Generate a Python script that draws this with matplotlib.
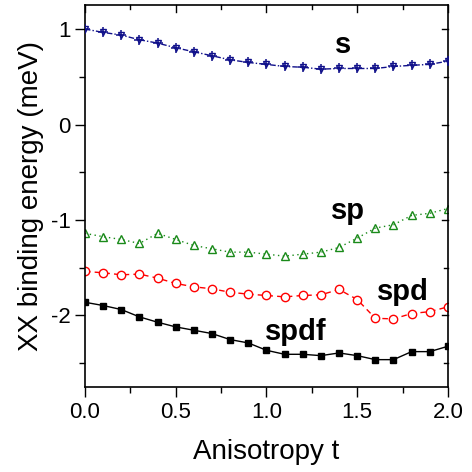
import matplotlib
matplotlib.use("Agg")
import matplotlib.pyplot as plt
import numpy as np
from matplotlib.ticker import MultipleLocator

plt.rcParams['font.family'] = ['Liberation Sans', 'DejaVu Sans']
plt.rcParams['axes.unicode_minus'] = False

t = [0.0, 0.1, 0.2, 0.3, 0.4, 0.5, 0.6, 0.7, 0.8, 0.9, 1.0,
     1.1, 1.2, 1.3, 1.4, 1.5, 1.6, 1.7, 1.8, 1.9, 2.0]

e_s = [1.00, 0.965, 0.937, 0.888, 0.853, 0.804, 0.762, 0.720, 0.678, 0.650, 0.630,
       0.608, 0.600, 0.580, 0.587, 0.587, 0.587, 0.608, 0.620, 0.630, 0.664]
e_sp = [-1.14, -1.175, -1.204, -1.246, -1.14, -1.204, -1.267, -1.302, -1.337, -1.337, -1.358,
        -1.379, -1.358, -1.337, -1.288, -1.19, -1.085, -1.05, -0.952, -0.93, -0.88]
e_spd = [-1.539, -1.553, -1.574, -1.567, -1.609, -1.665, -1.700, -1.721, -1.757, -1.777, -1.791,
         -1.805, -1.791, -1.784, -1.728, -1.833, -2.030, -2.036, -1.980, -1.960, -1.910]
e_spdf = [-1.862, -1.896, -1.938, -2.015, -2.071, -2.120, -2.155, -2.190, -2.253, -2.288, -2.365,
          -2.407, -2.407, -2.421, -2.393, -2.421, -2.463, -2.463, -2.379, -2.379, -2.323]

labels = ["s", "sp", "spd", "spdf"]

fig = plt.figure(figsize=(4.72, 4.72), dpi=100)
ax = fig.add_axes([0.18, 0.18, 0.769, 0.809])

navy = "#10108a"
ax.plot(t, e_s, color=navy, lw=1.0, ls=(0, (4, 1.5, 1, 1.5)),
        marker="v", ms=5, mfc="none", mec=navy, mew=1.0, zorder=3)
ax.plot(t, e_s, ls="none", marker="+", ms=6.5, mec=navy, mew=1.1, zorder=4)
ax.plot(t, e_sp, color="#1a8a1a", lw=1.0, ls=(0, (1, 2.5)),
        marker="^", ms=6, mfc="none", mec="#1a8a1a", mew=1.0)
ax.plot(t, e_spd, color="red", lw=1.0, ls=(0, (4, 3)),
        marker="o", ms=6, mfc="white", mec="red", mew=1.0)
ax.plot(t, e_spdf, color="black", lw=1.0, ls="-",
        marker="s", ms=4.8, mfc="black", mec="black")

ax.set_xlim(0, 2.0)
ax.set_ylim(-2.75, 1.25)
ax.xaxis.set_major_locator(MultipleLocator(0.5))
ax.xaxis.set_minor_locator(MultipleLocator(0.25))
ax.yaxis.set_major_locator(MultipleLocator(1))
ax.yaxis.set_minor_locator(MultipleLocator(0.5))
ax.set_xticks([0, 0.5, 1.0, 1.5, 2.0])
ax.set_xticklabels(["0.0", "0.5", "1.0", "1.5", "2.0"])

ax.tick_params(which="both", direction="out", top=False, right=False,
               labelsize=16, width=1.0)
ax.tick_params(which="major", length=7)
ax.tick_params(which="minor", length=4)

# mirrored inward ticks on the top and right frame
for v in np.arange(0, 2.01, 0.25):
    L = 0.017 if abs(v * 2 - round(v * 2)) < 1e-6 else 0.011
    ax.plot([v, v], [1.0, 1.0 - L], transform=ax.get_xaxis_transform(),
            color="black", lw=1.0, clip_on=False)
for v in np.arange(-2.5, 1.01, 0.5):
    L = 0.017 if abs(v - round(v)) < 1e-6 else 0.011
    ax.plot([1.0, 1.0 - L], [v, v], transform=ax.get_yaxis_transform(),
            color="black", lw=1.0, clip_on=False)

for sp_ in ax.spines.values():
    sp_.set_linewidth(1.2)

ax.set_xlabel("Anisotropy t", fontsize=20, labelpad=12)
ax.set_ylabel("XX binding energy (meV)", fontsize=20, labelpad=5)

pos = [(1.42, 0.75), (1.45, -0.985), (1.75, -1.833), (1.16, -2.253)]
for lab, (x, y) in zip(labels, pos):
    ax.text(x, y, lab, fontsize=21, fontweight="bold", ha="center", va="baseline")

fig.savefig("out.png", dpi=100)
